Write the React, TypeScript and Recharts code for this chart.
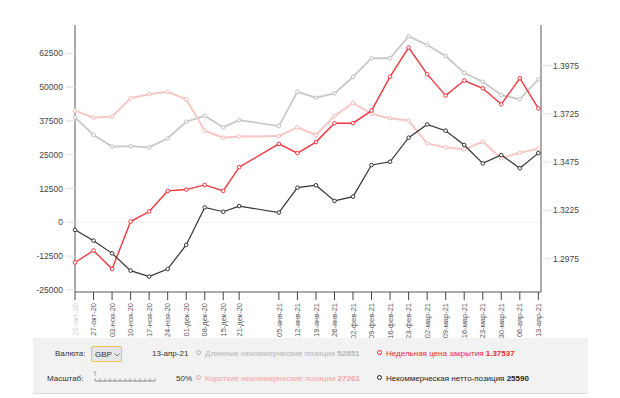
import React from 'react';
import { LineChart, Line, XAxis, YAxis, ReferenceLine } from 'recharts';

// weekly COT report dates
const dates = [
  '2020-10-20', '2020-10-27', '2020-11-03', '2020-11-10', '2020-11-17', '2020-11-24',
  '2020-12-01', '2020-12-08', '2020-12-15', '2020-12-21', '2021-01-05', '2021-01-12',
  '2021-01-19', '2021-01-26', '2021-02-02', '2021-02-09', '2021-02-16', '2021-02-23',
  '2021-03-02', '2021-03-09', '2021-03-16', '2021-03-23', '2021-03-30', '2021-04-06',
  '2021-04-13',
];
const dateLabels = [
  '20-окт-20', '27-окт-20', '03-ноя-20', '10-ноя-20', '17-ноя-20', '24-ноя-20',
  '01-дек-20', '08-дек-20', '15-дек-20', '21-дек-20', '05-янв-21', '12-янв-21',
  '19-янв-21', '26-янв-21', '02-фев-21', '09-фев-21', '16-фев-21', '23-фев-21',
  '02-мар-21', '09-мар-21', '16-мар-21', '23-мар-21', '30-мар-21', '06-апр-21',
  '13-апр-21',
];
const longPositions = [
  38800, 32300, 28000, 28200, 27700, 31100, 37200, 39400, 35100, 37800, 35600, 48300,
  46100, 47700, 53800, 60700, 60700, 68900, 65600, 61500, 55300, 52000, 47100, 45500,
  52851,
];
const shortPositions = [
  41300, 38700, 39100, 45900, 47400, 48300, 45500, 33900, 31300, 31700, 31900, 35100,
  32300, 39300, 44200, 40100, 38500, 37600, 29200, 27700, 27000, 29800, 23700, 25700,
  27261,
];
const netPositions = [
  -2800, -6800, -11500, -17900, -20100, -17300, -8400, 5500, 3900, 6000, 3600, 12800,
  13700, 7900, 9500, 21200, 22400, 31300, 36200, 33900, 28600, 21800, 24900, 20000,
  25590,
];
const closePrices = [
  1.2955, 1.3017, 1.2921, 1.3167, 1.3219, 1.3326, 1.3333, 1.3357, 1.3326, 1.3449, 1.357,
  1.3522, 1.3579, 1.3677, 1.3677, 1.3742, 1.3918, 1.4069, 1.3931, 1.382, 1.3898, 1.3858,
  1.3775, 1.391, 1.37537,
];
const leftTicks = [-25000, -12500, 0, 12500, 25000, 37500, 50000, 62500];
const rightTicks = [1.2975, 1.3225, 1.3475, 1.3725, 1.3975];

const DAY = 86400000;
const start = Date.parse(dates[0]);
const dayOffsets = dates.map((d) => Math.round((Date.parse(d) - start) / DAY));

const data = dates.map((d, i) => ({
  t: dayOffsets[i],
  long: longPositions[i],
  short: shortPositions[i],
  net: netPositions[i],
  close: closePrices[i],
}));

const DateTick = (props: any) => {
  const { x, y, payload } = props;
  const idx = dayOffsets.indexOf(payload.value);
  return (
    <text
      transform={`translate(${x},${y + 1}) rotate(-90)`}
      textAnchor="end"
      dy="0.35em"
      fontSize={7.5}
      fill={idx === 0 ? '#ccc' : '#555'}
    >
      {dateLabels[idx]}
    </text>
  );
};

const Dot = ({ c }: { c: string }) => (
  <span
    style={{
      display: 'inline-block',
      width: 3,
      height: 3,
      border: `1px solid ${c}`,
      borderRadius: '50%',
      marginRight: 4,
      verticalAlign: 'middle',
      position: 'relative',
      top: -1,
    }}
  />
);

const txt = (left: number, top: number): React.CSSProperties => ({
  position: 'absolute',
  left,
  top,
  fontSize: 8,
  lineHeight: '12px',
  whiteSpace: 'nowrap',
});

export default function App() {
  return (
    <div
      style={{
        position: 'absolute',
        left: 0,
        top: 0,
        width: 620,
        height: 398,
        background: '#fff',
        fontFamily: '"Liberation Sans", Arial, sans-serif',
        overflow: 'hidden',
      }}
    >
      <LineChart width={620} height={340} data={data} margin={{ top: 25, right: 0, bottom: 0, left: 0 }}>
        <XAxis
          xAxisId="top"
          orientation="top"
          type="number"
          domain={[0, 176]}
          height={0}
          tick={false}
          tickLine={false}
          axisLine={{ stroke: '#555' }}
        />
        <XAxis
          dataKey="t"
          type="number"
          domain={[0, 176]}
          ticks={dayOffsets}
          interval={0}
          height={48}
          tickSize={8}
          tickMargin={2}
          tickLine={{ stroke: '#444' }}
          axisLine={{ stroke: '#555' }}
          tick={<DateTick />}
        />
        <YAxis
          yAxisId="left"
          width={75}
          domain={[-25800, 73000]}
          ticks={leftTicks}
          interval={0}
          allowDataOverflow
          tickSize={9}
          tickMargin={3}
          tickLine={{ stroke: '#ddd' }}
          axisLine={{ stroke: '#555' }}
          tick={{ fontSize: 8.5, fill: '#444' }}
        />
        <YAxis
          yAxisId="right"
          orientation="right"
          width={79}
          domain={[1.2802, 1.4186]}
          ticks={rightTicks}
          interval={0}
          allowDataOverflow
          tickSize={10}
          tickMargin={2}
          tickLine={{ stroke: '#ddd' }}
          axisLine={{ stroke: '#555' }}
          tick={{ fontSize: 8.5, fill: '#444' }}
          tickFormatter={(v: number) => v.toFixed(4)}
        />
        <ReferenceLine yAxisId="left" y={0} stroke="#f0f0f0" />
        <Line
          yAxisId="left"
          dataKey="long"
          stroke="#c8c8c8"
          strokeWidth={1.8}
          dot={{ r: 1.8, fill: '#fff', stroke: '#c0c0c0', strokeWidth: 1 }}
          activeDot={false}
          isAnimationActive={false}
        />
        <Line
          yAxisId="left"
          dataKey="short"
          stroke="#f9c6c6"
          strokeWidth={2}
          dot={{ r: 1.8, fill: '#fff', stroke: '#f6bcbc', strokeWidth: 1 }}
          activeDot={false}
          isAnimationActive={false}
        />
        <Line
          yAxisId="right"
          dataKey="close"
          stroke="#f0353d"
          strokeWidth={1.4}
          dot={{ r: 1.8, fill: '#fff', stroke: '#f0353d', strokeWidth: 1 }}
          activeDot={false}
          isAnimationActive={false}
        />
        <Line
          yAxisId="left"
          dataKey="net"
          stroke="#333"
          strokeWidth={1.2}
          dot={{ r: 1.8, fill: '#fff', stroke: '#333', strokeWidth: 1 }}
          activeDot={false}
          isAnimationActive={false}
        />
      </LineChart>

      <div
        style={{
          position: 'absolute',
          left: 33,
          top: 338,
          width: 555,
          height: 55,
          background: '#f2f2f2',
          borderBottom: '1px solid #ddd',
        }}
      />
      <div style={{ ...txt(55, 348), color: '#333' }}>Валюта:</div>
      <div
        style={{
          position: 'absolute',
          left: 91,
          top: 346,
          width: 31,
          height: 16,
          border: '1px solid #f2c14e',
          borderRadius: 2,
          background: '#e6e6e6',
          fontSize: 8,
          lineHeight: '15px',
          color: '#333',
          paddingLeft: 3,
          boxSizing: 'border-box',
        }}
      >
        GBP
        <svg width={6} height={4} style={{ position: 'absolute', left: 22, top: 6 }}>
          <polyline points="0.5,0.5 3,3 5.5,0.5" fill="none" stroke="#666" strokeWidth={0.9} />
        </svg>
      </div>
      <div style={{ ...txt(152, 348), color: '#333' }}>13-апр-21</div>
      <div style={{ ...txt(196, 348), color: '#b5b5b5' }}>
        <Dot c="#b5b5b5" />
        Длинные некоммерческие позиции <b>52851</b>
      </div>
      <div style={{ ...txt(377, 348), color: '#ee2a33' }}>
        <Dot c="#ee2a33" />
        Недельная цена закрытия <b>1.37537</b>
      </div>

      <div style={{ ...txt(47, 373), color: '#333' }}>Масштаб:</div>
      <svg width={66} height={14} style={{ position: 'absolute', left: 92, top: 370 }}>
        <line x1={3} y1={11} x2={63} y2={11} stroke="#888" strokeWidth={1} />
        {Array.from({ length: 13 }).map((_, i) => (
          <line key={i} x1={3 + i * 5} y1={8.5} x2={3 + i * 5} y2={11} stroke="#888" strokeWidth={0.8} />
        ))}
        <line x1={3} y1={2} x2={3} y2={6} stroke="#999" strokeWidth={0.8} />
        <line x1={1.5} y1={2} x2={4.5} y2={2} stroke="#999" strokeWidth={0.8} />
      </svg>
      <div style={{ ...txt(176, 373), color: '#333' }}>50%</div>
      <div style={{ ...txt(196, 373), color: '#f3a3a3' }}>
        <Dot c="#f3a3a3" />
        Короткие некоммерческие позиции <b>27261</b>
      </div>
      <div style={{ ...txt(377, 373), color: '#222' }}>
        <Dot c="#222" />
        Некоммерческая нетто-позиция <b>25590</b>
      </div>
    </div>
  );
}
